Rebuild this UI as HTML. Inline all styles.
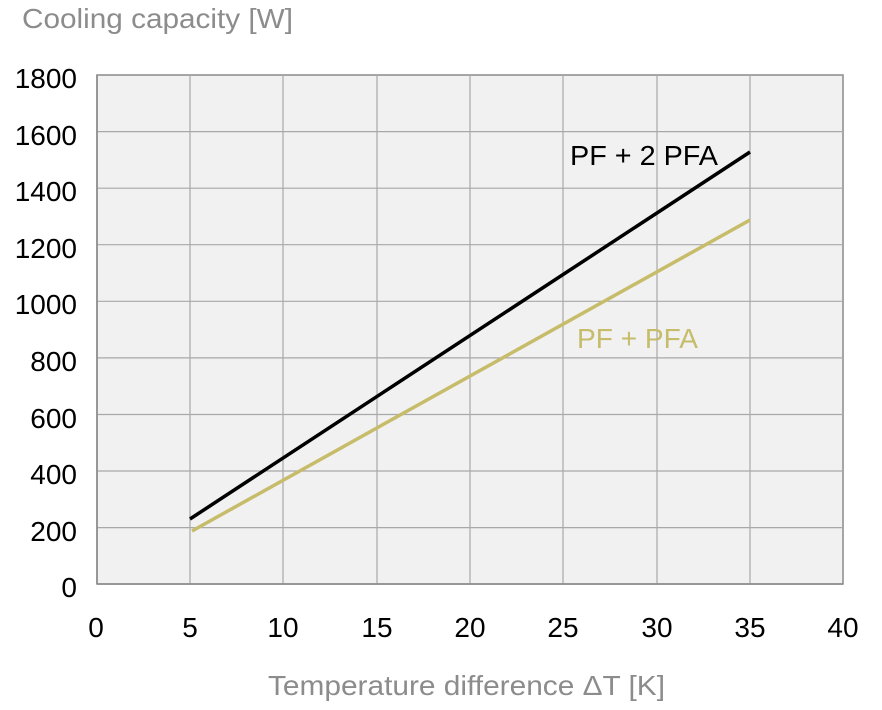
<!DOCTYPE html>
<html><head><style>
body{margin:0;background:#fff;}
svg text{font-family:"Liberation Sans",sans-serif;}
</style></head><body>
<svg width="882" height="705" xmlns="http://www.w3.org/2000/svg">
<rect x="97" y="75" width="746" height="509" fill="#f1f1f1" stroke="#8a8a8a" stroke-width="1.5"/>
<g stroke="#a8a8a8" stroke-width="1.2">
<line x1="190" y1="75" x2="190" y2="584"/><line x1="283" y1="75" x2="283" y2="584"/>
<line x1="377" y1="75" x2="377" y2="584"/><line x1="470" y1="75" x2="470" y2="584"/>
<line x1="563" y1="75" x2="563" y2="584"/><line x1="657" y1="75" x2="657" y2="584"/>
<line x1="750" y1="75" x2="750" y2="584"/>
<line x1="97" y1="131.6" x2="843" y2="131.6"/><line x1="97" y1="188.2" x2="843" y2="188.2"/>
<line x1="97" y1="244.7" x2="843" y2="244.7"/><line x1="97" y1="301.3" x2="843" y2="301.3"/>
<line x1="97" y1="357.9" x2="843" y2="357.9"/><line x1="97" y1="414.5" x2="843" y2="414.5"/>
<line x1="97" y1="471" x2="843" y2="471"/><line x1="97" y1="527.6" x2="843" y2="527.6"/>
</g>
<line x1="97" y1="584" x2="843" y2="584" stroke="#8a8a8a" stroke-width="1.5"/>
<line x1="97" y1="75" x2="97" y2="584" stroke="#8a8a8a" stroke-width="1.5"/>
<line x1="190" y1="519" x2="750" y2="152" stroke="#000" stroke-width="3.5"/>
<line x1="192" y1="531" x2="750" y2="220" stroke="#c6bc6a" stroke-width="3.5"/>
<g font-size="28" fill="#000" text-anchor="end">
<text x="77" y="88">1800</text><text x="77" y="145">1600</text><text x="77" y="201">1400</text>
<text x="77" y="258">1200</text><text x="77" y="314">1000</text><text x="77" y="371">800</text>
<text x="77" y="428">600</text><text x="77" y="484">400</text><text x="77" y="541">200</text>
<text x="77" y="597">0</text>
</g>
<g font-size="28" fill="#000" text-anchor="middle">
<text x="96" y="637">0</text><text x="190" y="637">5</text><text x="283" y="637">10</text>
<text x="377" y="637">15</text><text x="470" y="637">20</text><text x="563" y="637">25</text>
<text x="657" y="637">30</text><text x="750" y="637">35</text><text x="843" y="637">40</text>
</g>
<text x="570" y="165" font-size="28" fill="#000" textLength="148" lengthAdjust="spacingAndGlyphs">PF + 2 PFA</text>
<text x="577" y="348" font-size="28" fill="#c6bc6a" textLength="121" lengthAdjust="spacingAndGlyphs">PF + PFA</text>
<text x="22" y="28" font-size="28" fill="#8c8c8c" textLength="271" lengthAdjust="spacingAndGlyphs">Cooling capacity [W]</text>
<text x="268" y="695" font-size="28" fill="#8c8c8c" textLength="397" lengthAdjust="spacingAndGlyphs">Temperature difference ΔT [K]</text>
</svg>
</body></html>
